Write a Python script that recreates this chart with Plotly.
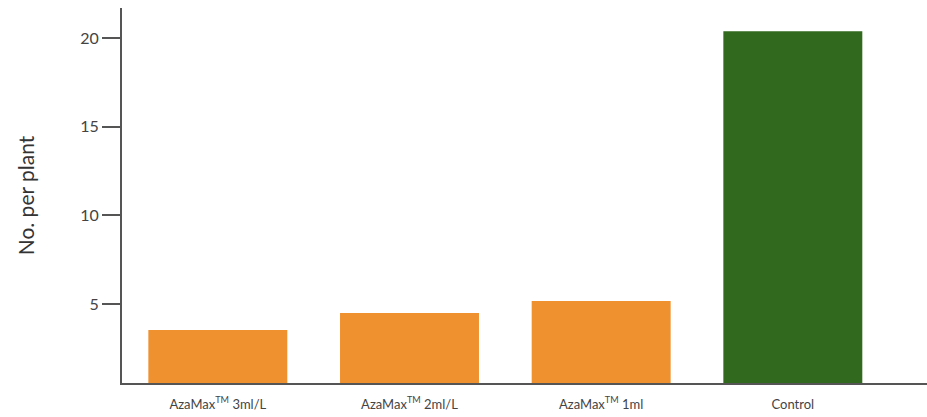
import plotly.graph_objects as go

categories = ["AzaMax<sup>TM</sup> 3ml/L", "AzaMax<sup>TM</sup> 2ml/L", "AzaMax<sup>TM</sup> 1ml", "Control"]
values = [3.53, 4.49, 5.17, 20.40]
bar_colors = ["#EF912F", "#EF912F", "#EF912F", "#31691E"]
y_ticks = [5, 10, 15, 20]

fig = go.Figure(go.Bar(
    x=categories, y=values, marker=dict(color=bar_colors, line=dict(width=0)),
    width=0.725,
))

fig.update_layout(
    width=927, height=417,
    margin=dict(l=122, r=0, t=8, b=34),
    plot_bgcolor="white", paper_bgcolor="white",
    showlegend=False,
    font=dict(family="Lato, Open Sans, sans-serif", color="#333333"),
    xaxis=dict(
        range=[-0.5, 3.7],
        showline=True, linecolor="#555555", linewidth=2,
        ticks="", showgrid=False, zeroline=False,
        tickfont=dict(size=13, color="#444444"),
        ticklabelstandoff=8,
    ),
    yaxis=dict(
        range=[0.54, 21.71],
        tickvals=y_ticks,
        showline=True, linecolor="#555555", linewidth=2,
        ticks="outside", ticklen=18, tickwidth=2, tickcolor="#555555",
        showgrid=False, zeroline=False,
        tickfont=dict(size=16, color="#444444"),
        title=dict(text="No. per plant", font=dict(size=21, color="#333333"), standoff=40),
    ),
)

fig.write_html("out.html")
